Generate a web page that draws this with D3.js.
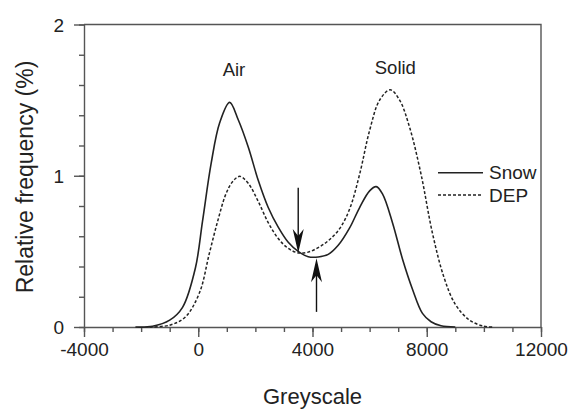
<!DOCTYPE html>
<meta charset="utf-8">
<head>
  <title>Greyscale histogram</title>
</head>

<style>
body {
  margin: 0;
  background: #fff;
  font-family: Arial, "Liberation Sans", sans-serif;
}
svg text { fill: #222; }
</style>

<body>
  <div id="content"></div>

  <script src="https://cdnjs.cloudflare.com/ajax/libs/d3/7.8.5/d3.min.js"></script>

  <script>
// values
var snowX = [-2200, -1600, -1000, -550, -100, 150, 450, 750, 1100, 1400, 1750, 2100, 2450, 2800, 3150, 3500, 3850, 4200, 4550, 4900, 5300, 5650, 6000, 6230, 6450, 6800, 7150, 7500, 7850, 8150, 8500, 9000];
var snowY = [0, 0.005, 0.045, 0.13, 0.39, 0.70, 1.08, 1.35, 1.485, 1.37, 1.19, 0.97, 0.79, 0.66, 0.56, 0.50, 0.465, 0.463, 0.48, 0.54, 0.655, 0.79, 0.90, 0.928, 0.88, 0.69, 0.45, 0.25, 0.09, 0.035, 0.008, 0];

var depX = [-1700, -1000, -450, 50, 380, 680, 970, 1200, 1450, 1750, 2100, 2450, 2800, 3150, 3500, 3850, 4200, 4550, 4950, 5300, 5650, 6000, 6350, 6720, 7050, 7400, 7800, 8200, 8600, 9000, 9500, 10000, 10300];
var depY = [0, 0.012, 0.066, 0.23, 0.48, 0.70, 0.88, 0.96, 0.996, 0.95, 0.83, 0.69, 0.585, 0.52, 0.49, 0.495, 0.525, 0.57, 0.65, 0.78, 1.01, 1.30, 1.50, 1.568, 1.50, 1.32, 1.01, 0.62, 0.33, 0.15, 0.045, 0.005, 0];

var xTicks = [-4000, 0, 4000, 8000, 12000];
var yTicks = [0, 1, 2];

var peakLabels = [{text: 'Air', x: 1250, y: 1.66}, {text: 'Solid', x: 6900, y: 1.67}];
// arrows: x, from value, to value (tip)
var arrows = [{x: 3500, from: 0.92, to: 0.49}, {x: 4140, from: 0.10, to: 0.455}];

var W = 573, H = 410;
var mLeft = 84, mTop = 24.5, mRight = 541, mBottom = 327;

var svg = d3.select('#content').append('svg')
  .attr('width', W)
  .attr('height', H);

var x = d3.scaleLinear().domain([-4000, 12000]).range([mLeft, mRight]);
var y = d3.scaleLinear().domain([0, 2]).range([mBottom, mTop]);

var axisColor = '#555';

// frame (top + right)
svg.append('path')
  .attr('d', 'M' + mLeft + ',' + mTop + 'H' + mRight + 'V' + mBottom)
  .attr('fill', 'none')
  .attr('stroke', axisColor)
  .attr('stroke-width', 1.4);

// minor ticks
svg.append('g')
  .attr('transform', 'translate(0,' + mBottom + ')')
  .call(d3.axisBottom(x).tickValues(d3.range(-4000, 12001, 1000)).tickSize(5).tickFormat(''))
  .call(function(g) { g.select('.domain').remove(); });
svg.append('g')
  .attr('transform', 'translate(' + mLeft + ',0)')
  .call(d3.axisLeft(y).tickValues(d3.range(0, 2.01, 0.2)).tickSize(5).tickFormat(''))
  .call(function(g) { g.select('.domain').remove(); });

// major ticks + labels
var fmt = function(d) { return String(d); };
var gx = svg.append('g')
  .attr('transform', 'translate(0,' + mBottom + ')')
  .call(d3.axisBottom(x).tickValues(xTicks).tickFormat(fmt).tickSize(10).tickSizeOuter(0).tickPadding(6));
var gy = svg.append('g')
  .attr('transform', 'translate(' + mLeft + ',0)')
  .call(d3.axisLeft(y).tickValues(yTicks).tickFormat(fmt).tickSize(10).tickSizeOuter(0).tickPadding(10));

svg.selectAll('.tick line, .domain')
  .attr('stroke', axisColor)
  .attr('stroke-width', 1.4);
svg.selectAll('.tick text')
  .attr('font-family', 'Arial, "Liberation Sans", sans-serif')
  .attr('font-size', 19)
  .attr('fill', '#222');
gy.selectAll('.tick text').attr('dy', '0.36em');

// axis titles
svg.append('text')
  .attr('x', (mLeft + mRight) / 2)
  .attr('y', 404)
  .attr('text-anchor', 'middle')
  .attr('font-size', 22)
  .text('Greyscale');

svg.append('text')
  .attr('transform', 'translate(33,' + 177 + ') rotate(-90)')
  .attr('text-anchor', 'middle')
  .attr('font-size', 23)
  .text('Relative frequency (%)');

// curves
var line = d3.line()
  .x(function(d) { return x(d[0]); })
  .y(function(d) { return y(d[1]); })
  .curve(d3.curveCatmullRom.alpha(0.5));

var snow = d3.zip(snowX, snowY);
var dep = d3.zip(depX, depY);

svg.append('path')
  .datum(dep)
  .attr('d', line)
  .attr('fill', 'none')
  .attr('stroke', '#222')
  .attr('stroke-width', 1.5)
  .attr('stroke-dasharray', '3,2');

svg.append('path')
  .datum(snow)
  .attr('d', line)
  .attr('fill', 'none')
  .attr('stroke', '#222')
  .attr('stroke-width', 1.6);

// peak labels
svg.selectAll('.peak')
  .data(peakLabels)
  .enter().append('text')
  .attr('class', 'peak')
  .attr('x', function(d) { return x(d.x); })
  .attr('y', function(d) { return y(d.y); })
  .attr('text-anchor', 'middle')
  .attr('font-size', 18.5)
  .text(function(d) { return d.text; });

// arrows
arrows.forEach(function(a) {
  var x0 = x(a.x), y0 = y(a.from), y1 = y(a.to);
  var dir = y1 > y0 ? 1 : -1;
  svg.append('line')
    .attr('x1', x0).attr('y1', y0)
    .attr('x2', x0).attr('y2', y1 - dir * 10)
    .attr('stroke', '#111')
    .attr('stroke-width', 1.4);
  var head = [[x0, y1], [x0 - 5.5, y1 - dir * 24], [x0, y1 - dir * 17], [x0 + 5.5, y1 - dir * 24]];
  svg.append('path')
    .attr('d', 'M' + head.join('L') + 'Z')
    .attr('fill', '#111');
});

// legend
var legend = [{name: 'Snow', dash: null, y: 172.7}, {name: 'DEP', dash: '3,2', y: 195}];
legend.forEach(function(d) {
  svg.append('line')
    .attr('x1', 438).attr('x2', 483)
    .attr('y1', d.y).attr('y2', d.y)
    .attr('stroke', '#222')
    .attr('stroke-width', 1.5)
    .attr('stroke-dasharray', d.dash);
  svg.append('text')
    .attr('x', 489)
    .attr('y', d.y + 6.5)
    .attr('font-size', 19)
    .text(d.name);
});
  </script>
</body>
</html>
